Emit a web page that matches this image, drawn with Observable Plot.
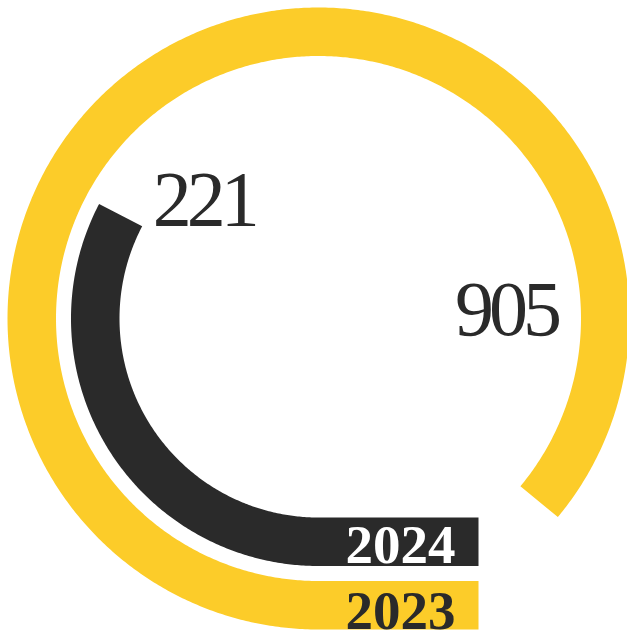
<!DOCTYPE html>
<html>
<head>
<meta charset="utf-8">
<script src="https://cdn.jsdelivr.net/npm/d3@7"></script>
<script src="https://cdn.jsdelivr.net/npm/@observablehq/plot@0.6"></script>
<style>
  html, body { margin: 0; padding: 0; background: #fff; }
  #chart svg { display: block; }
</style>
</head>
<body>
<div id="chart"></div>
<script>
// ---- data ----
const years = ["2023", "2024"];
const values = [905, 221];
const valueLabels = ["905", "221"];

// ---- styles ----
const yellow = "#FCCC29";
const dark = "#2A2A2A";
const font = "Liberation Serif, Times New Roman, serif";

// ---- geometry (scales) ----
const W = 627, H = 632;
const cx = 318, cy = 318;
// angle swept from 6 o'clock, clockwise, calibrated to the picture
const angle = d3.scaleLinear().domain([221, 905]).range([117.6, 309.7].map(d => d * Math.PI / 180));
const ring = d3.scaleBand().domain(["2024", "2023"]).range([199, 311]).paddingInner(0.236);
const bw = ring.bandwidth();
const radius = y => ring(y) + bw / 2;
const straight = 160;

const rows = years.map((y, i) => ({year: y, value: values[i], label: valueLabels[i]}));

const pts = [];
for (const r0 of rows) {
  const r = radius(r0.year);
  pts.push({year: r0.year, x: straight, y: r});
  pts.push({year: r0.year, x: 0, y: r});
  const a1 = angle(r0.value);
  const n = Math.ceil(a1 / (Math.PI / 360));
  for (let k = 1; k <= n; k++) {
    const t = a1 * k / n;
    pts.push({year: r0.year, x: -r * Math.sin(t), y: r * Math.cos(t)});
  }
}
const ends = rows.map(r0 => {
  const r = radius(r0.year), t = angle(r0.value);
  return {...r0, x: -r * Math.sin(t), y: r * Math.cos(t), r};
});

const plot = Plot.plot({
  width: W,
  height: H,
  margin: 0,
  x: {domain: [-cx, W - cx], range: [0, W], axis: null},
  y: {domain: [-cy, H - cy], range: [0, H], axis: null},
  color: {domain: years, range: [yellow, dark]},
  style: {fontFamily: font, background: "#fff"},
  marks: [
    Plot.line(pts, {x: "x", y: "y", z: "year", stroke: "year", strokeWidth: bw,
      strokeLinecap: "butt", strokeLinejoin: "round", curve: "linear"}),
    // year labels on the straight part
    Plot.text(rows.filter(d => d.year === "2024"), {x: () => straight / 2, y: d => radius(d.year),
      text: "year", fill: "#fff", fontSize: 55, fontWeight: "bold", lineAnchor: "bottom", dy: 21, dx: 2}),
    Plot.text(rows.filter(d => d.year === "2023"), {x: () => straight / 2, y: d => radius(d.year),
      text: "year", fill: dark, fontSize: 55, fontWeight: "bold", lineAnchor: "bottom", dy: 24, dx: 2}),
    // value labels near the arc ends
    Plot.text(ends.filter(d => d.year === "2024"), {x: "x", y: "y", text: "label", fill: dark,
      fontSize: 78, textAnchor: "start", lineAnchor: "bottom", dx: 32, dy: 10}),
    Plot.text(ends.filter(d => d.year === "2023"), {x: "x", y: "y", text: "label", fill: dark,
      fontSize: 78, textAnchor: "end", lineAnchor: "bottom", dx: 18, dy: -167})
  ]
});
d3.select(plot).selectAll("text").filter(function () {
  return valueLabels.includes(this.textContent);
}).attr("letter-spacing", "-5px");
document.getElementById("chart").appendChild(plot);
</script>
</body>
</html>
